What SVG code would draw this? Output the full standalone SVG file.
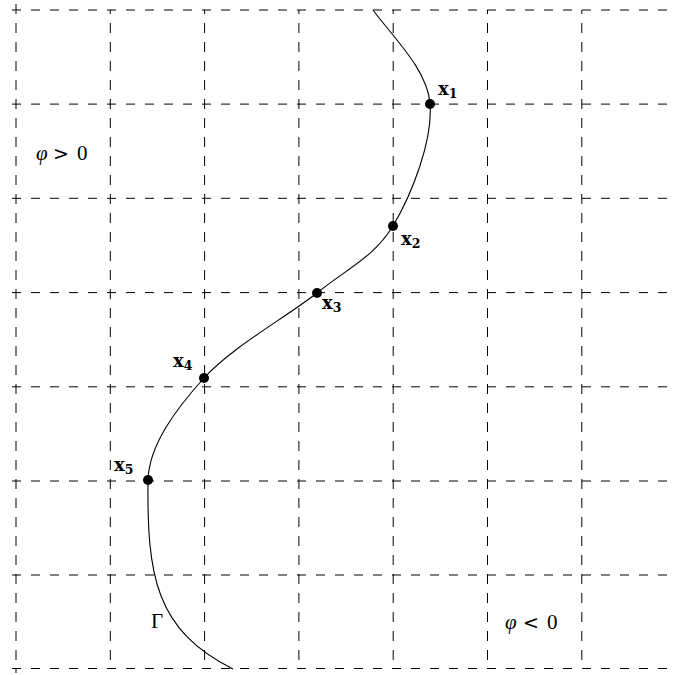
<svg xmlns="http://www.w3.org/2000/svg" width="673" height="675" viewBox="0 0 673 675">
<style>
.h{stroke:#000;stroke-width:1;stroke-dasharray:9 10;fill:none}
.v{stroke:#000;stroke-width:1;stroke-dasharray:10 9;stroke-dashoffset:6;fill:none}
.curve{stroke:#000;stroke-width:1.1;fill:none}
.pt{fill:#000}
.lbl{font-family:"DejaVu Serif",serif;font-weight:bold;font-size:18px;fill:#000}
.sub{font-size:12.5px}
.math{font-family:"Liberation Serif",serif;font-size:21px;fill:#000}
.it{font-style:italic}
.rel{font-family:"DejaVu Serif",serif;font-size:19px}
</style>
<rect width="673" height="675" fill="#fff"/>
<g id="grid">
<path class="h" d="M12,10H673M12,104.1H673M12,198.3H673M12,292.6H673M12,386.8H673M12,481H673M12,575H673M12,668.5H673"/>
<path class="v" style="stroke-dashoffset:0" d="M16,4V673"/>
<path class="v" d="M110.3,10V668.5M204.6,10V668.5M298.9,10V668.5M393.2,10V668.5M487.5,10V668.5M581.8,10V668.5"/>
</g>
<g id="connectors">
<path class="curve" d="M373,10 C392,36 428,70 430,104 C433,140 412,194 393,226 C374,257 348,268 317,293 C285,318 232,347 204,378 C176,409 149,445 148,480 C147,575 155,630 233,669"/>
</g>
<g id="x1"><circle class="pt" cx="430" cy="104" r="5"/><text class="lbl" x="438" y="95">x<tspan class="sub" dy="3">1</tspan></text></g>
<g id="x2"><circle class="pt" cx="393" cy="226" r="5"/><text class="lbl" x="401" y="245">x<tspan class="sub" dy="3">2</tspan></text></g>
<g id="x3"><circle class="pt" cx="317" cy="293" r="5"/><text class="lbl" x="322" y="309">x<tspan class="sub" dy="3">3</tspan></text></g>
<g id="x4"><circle class="pt" cx="204" cy="378" r="5"/><text class="lbl" x="173" y="367">x<tspan class="sub" dy="3">4</tspan></text></g>
<g id="x5"><circle class="pt" cx="148" cy="480" r="5"/><text class="lbl" x="114" y="471">x<tspan class="sub" dy="3">5</tspan></text></g>
<g id="phi-pos"><text class="math" y="160"><tspan class="it" x="36">φ</tspan><tspan class="rel" x="53">&gt;</tspan><tspan x="77">0</tspan></text></g>
<g id="phi-neg"><text class="math" y="629"><tspan class="it" x="505">φ</tspan><tspan class="rel" x="523">&lt;</tspan><tspan x="547">0</tspan></text></g>
<g id="gamma"><text class="math" x="151" y="628">Γ</text></g>
</svg>
